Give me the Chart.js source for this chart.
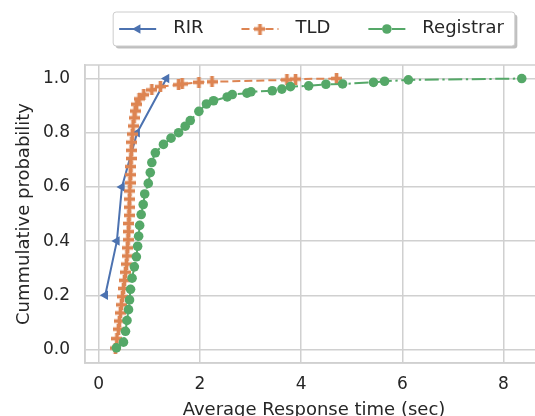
<!DOCTYPE html>
<html>
<head>
<meta charset="utf-8">
<script src="https://cdn.jsdelivr.net/npm/chart.js@4.4.1/dist/chart.umd.min.js"></script>
<style>
  html, body { margin: 0; padding: 0; overflow: hidden; background: #fff; }
  #wrap { width: 535px; height: 416px; overflow: hidden; }
  canvas { display: block; }
</style>
</head>
<body>
<!-- canvas is a bit wider than the window: the axes box runs past the right edge, as in the reference -->
<div id="wrap"><canvas id="cdfCanvas" width="545" height="425"></canvas></div>
<script>
// --- Data ---

const seriesNames = ['RIR', 'TLD', 'Registrar'];

const rirTime = [0.13, 0.36, 0.46, 0.76, 1.34];
const rirProb = [0.2, 0.4, 0.6, 0.8, 1.0];

const tldTime = [0.33, 0.36, 0.39, 0.41, 0.43, 0.45, 0.47, 0.49, 0.51, 0.53, 0.55, 0.56, 0.57, 0.58,
  0.59, 0.595, 0.60, 0.605, 0.61, 0.615, 0.62, 0.63, 0.635, 0.64, 0.645, 0.655, 0.665, 0.68,
  0.70, 0.72, 0.75, 0.80, 0.89, 1.05, 1.22, 1.58, 1.65, 1.98, 2.24, 3.72, 3.89, 4.70];
const tldProb = [0.005, 0.04, 0.075, 0.105, 0.135, 0.165, 0.195, 0.225, 0.255, 0.285, 0.315, 0.345,
  0.375, 0.405, 0.435, 0.465, 0.495, 0.525, 0.555, 0.585, 0.615, 0.645, 0.675, 0.705, 0.735,
  0.765, 0.795, 0.825, 0.855, 0.88, 0.905, 0.925, 0.94, 0.958, 0.97, 0.977, 0.98, 0.986, 0.988,
  0.995, 0.998, 1.0];

const regTime = [0.35, 0.49, 0.53, 0.56, 0.59, 0.61, 0.63, 0.66, 0.705, 0.745, 0.77, 0.79, 0.81, 0.84,
  0.88, 0.91, 0.98, 1.02, 1.05, 1.12, 1.28, 1.43, 1.58, 1.71, 1.81, 1.98, 2.13, 2.27, 2.54, 2.64,
  2.93, 3.01, 3.43, 3.62, 3.79, 4.15, 4.49, 4.82, 5.43, 5.65, 6.12, 8.36];
const regProb = [0.006, 0.027, 0.067, 0.107, 0.147, 0.183, 0.222, 0.263, 0.305, 0.342, 0.381, 0.418,
  0.458, 0.498, 0.535, 0.574, 0.613, 0.653, 0.69, 0.726, 0.757, 0.78, 0.80, 0.824, 0.845, 0.879,
  0.906, 0.918, 0.932, 0.941, 0.946, 0.951, 0.955, 0.961, 0.970, 0.973, 0.979, 0.980, 0.986,
  0.99, 0.995, 1.0];

const xTicks = [0, 2, 4, 6, 8];
const yTicks = [0.0, 0.2, 0.4, 0.6, 0.8, 1.0];

// seaborn "deep" colours
const BLUE = '#4C72B0';
const ORANGE = '#DD8452';
const GREEN = '#55A868';
const GRID = '#d0d0d0';
const TEXT = '#262626';
const FONT = '"DejaVu Sans", sans-serif';

// filled plus marker ('P' in matplotlib) as a small canvas
function makePlus(color, size) {
    const c = document.createElement('canvas');
    c.width = size;
    c.height = size;
    const g = c.getContext('2d');
    const t = size / 3;
    g.fillStyle = color;
    g.fillRect(t, 0, t, size);
    g.fillRect(0, t, size, t);
    return c;
}
const plusMarker = makePlus(ORANGE, 11);

const toPoints = (xs, ys) => xs.map((x, i) => ({ x, y: ys[i] }));

// marker for the legend handles
function drawMarker(ctx, ds, x, y) {
    ctx.save();
    ctx.fillStyle = ds.pointBackgroundColor;
    if (ds.pointStyle === 'circle') {
        ctx.beginPath();
        ctx.arc(x, y, ds.pointRadius, 0, Math.PI * 2);
        ctx.fill();
    } else if (ds.pointStyle === 'triangle') {
        const r = ds.pointRadius;
        ctx.beginPath();
        ctx.moveTo(x - r, y);
        ctx.lineTo(x + r * 0.5, y - r * 0.866);
        ctx.lineTo(x + r * 0.5, y + r * 0.866);
        ctx.closePath();
        ctx.fill();
    } else {
        ctx.drawImage(ds.pointStyle, x - ds.pointStyle.width / 2, y - ds.pointStyle.height / 2);
    }
    ctx.restore();
}

function roundRect(ctx, x, y, w, h, r) {
    ctx.beginPath();
    ctx.moveTo(x + r, y);
    ctx.arcTo(x + w, y, x + w, y + h, r);
    ctx.arcTo(x + w, y + h, x, y + h, r);
    ctx.arcTo(x, y + h, x, y, r);
    ctx.arcTo(x, y, x + w, y, r);
    ctx.closePath();
}

// frame + matplotlib-like legend above the axes
const framePlugin = {
    id: 'frame',
    beforeDatasetsDraw(chart) {
        const { ctx, chartArea: a } = chart;
        ctx.save();
        ctx.strokeStyle = GRID;
        ctx.lineWidth = 1.5;
        ctx.strokeRect(a.left, a.top, a.right - a.left, a.bottom - a.top);
        ctx.restore();
    },
    afterDraw(chart) {
        const { ctx, chartArea: a } = chart;
        const sets = chart.data.datasets;
        const handleLen = 37, handleGap = 17, itemGap = 38, padL = 6, padR = 11;
        const top = 12, h = 34;
        ctx.save();
        ctx.font = '18px ' + FONT;
        const widths = sets.map(ds => ctx.measureText(ds.label).width);
        let total = padL + padR + itemGap * (sets.length - 1);
        widths.forEach(w => { total += handleLen + handleGap + w; });
        const left = (a.left + a.right) / 2 - total / 2;

        ctx.fillStyle = 'rgba(0,0,0,0.25)';
        roundRect(ctx, left + 2.5, top + 2.5, total, h, 3);
        ctx.fill();
        ctx.fillStyle = '#fff';
        ctx.strokeStyle = '#cccccc';
        ctx.lineWidth = 1;
        roundRect(ctx, left, top, total, h, 3);
        ctx.fill();
        ctx.stroke();

        const cy = top + h / 2;
        let x = left + padL;
        sets.forEach((ds, i) => {
            ctx.save();
            ctx.strokeStyle = ds.borderColor;
            ctx.lineWidth = ds.borderWidth;
            ctx.setLineDash(ds.borderDash || []);
            ctx.beginPath();
            ctx.moveTo(x, cy);
            ctx.lineTo(x + handleLen, cy);
            ctx.stroke();
            ctx.restore();
            drawMarker(ctx, ds, x + handleLen / 2, cy);
            ctx.fillStyle = TEXT;
            ctx.textBaseline = 'middle';
            ctx.fillText(ds.label, x + handleLen + handleGap, cy - 1);
            x += handleLen + handleGap + widths[i] + itemGap;
        });
        ctx.restore();
    }
};

const canvas = document.getElementById('cdfCanvas');

new Chart(canvas, {
    type: 'line',
    data: {
        datasets: [
            {
                label: seriesNames[0],
                data: toPoints(rirTime, rirProb),
                borderColor: BLUE,
                backgroundColor: BLUE,
                pointBackgroundColor: BLUE,
                pointBorderColor: BLUE,
                borderWidth: 2,
                pointStyle: 'triangle',
                pointRotation: -90,
                pointRadius: 5.5,
                pointBorderWidth: 0,
                order: 3
            },
            {
                label: seriesNames[1],
                data: toPoints(tldTime, tldProb),
                borderColor: ORANGE,
                backgroundColor: ORANGE,
                pointBackgroundColor: ORANGE,
                borderWidth: 2,
                borderDash: [8, 4],
                pointStyle: plusMarker,
                pointRadius: 5.5,
                order: 2
            },
            {
                label: seriesNames[2],
                data: toPoints(regTime, regProb),
                borderColor: GREEN,
                backgroundColor: GREEN,
                pointBackgroundColor: GREEN,
                pointBorderColor: GREEN,
                borderWidth: 2,
                borderDash: [14, 3.6, 2.3, 3.6],
                pointStyle: 'circle',
                pointRadius: 4.8,
                pointBorderWidth: 0,
                order: 1
            }
        ]
    },
    options: {
        responsive: false,
        animation: false,
        // no extra room for overhanging tick labels: the plot box is placed exactly
        layout: { autoPadding: false, padding: { top: 65, right: 2, left: 0, bottom: 0 } },
        plugins: {
            legend: { display: false },
            tooltip: { enabled: false }
        },
        scales: {
            x: {
                type: 'linear',
                min: -0.27,
                max: 8.78,
                afterFit: s => { s.height = 62; s.paddingLeft = 0; s.paddingRight = 0; },
                afterBuildTicks: s => { s.ticks = xTicks.map(v => ({ value: v })); },
                grid: { color: GRID, lineWidth: 1.5, drawTicks: false },
                border: { color: GRID, width: 1.5 },
                ticks: {
                    padding: 11,
                    color: TEXT,
                    font: { family: FONT, size: 17 },
                    callback: v => String(v)
                },
                title: {
                    display: true,
                    text: 'Average Response time (sec)',
                    color: TEXT,
                    font: { family: FONT, size: 18 },
                    padding: { top: 0, bottom: 4 }
                }
            },
            y: {
                type: 'linear',
                min: -0.05,
                max: 1.05,
                afterFit: s => { s.width = 85; s.paddingTop = 0; s.paddingBottom = 0; },
                afterBuildTicks: s => { s.ticks = yTicks.map(v => ({ value: v })); },
                grid: { color: GRID, lineWidth: 1.5, drawTicks: false },
                border: { color: GRID, width: 1.5 },
                ticks: {
                    padding: 15,
                    color: TEXT,
                    font: { family: FONT, size: 17 },
                    callback: v => v.toFixed(1)
                },
                title: {
                    display: true,
                    text: 'Cummulative probability',
                    color: TEXT,
                    font: { family: FONT, size: 18 },
                    padding: { top: 14, bottom: 0 }
                }
            }
        }
    },
    plugins: [framePlugin]
});
</script>
</body>
</html>
